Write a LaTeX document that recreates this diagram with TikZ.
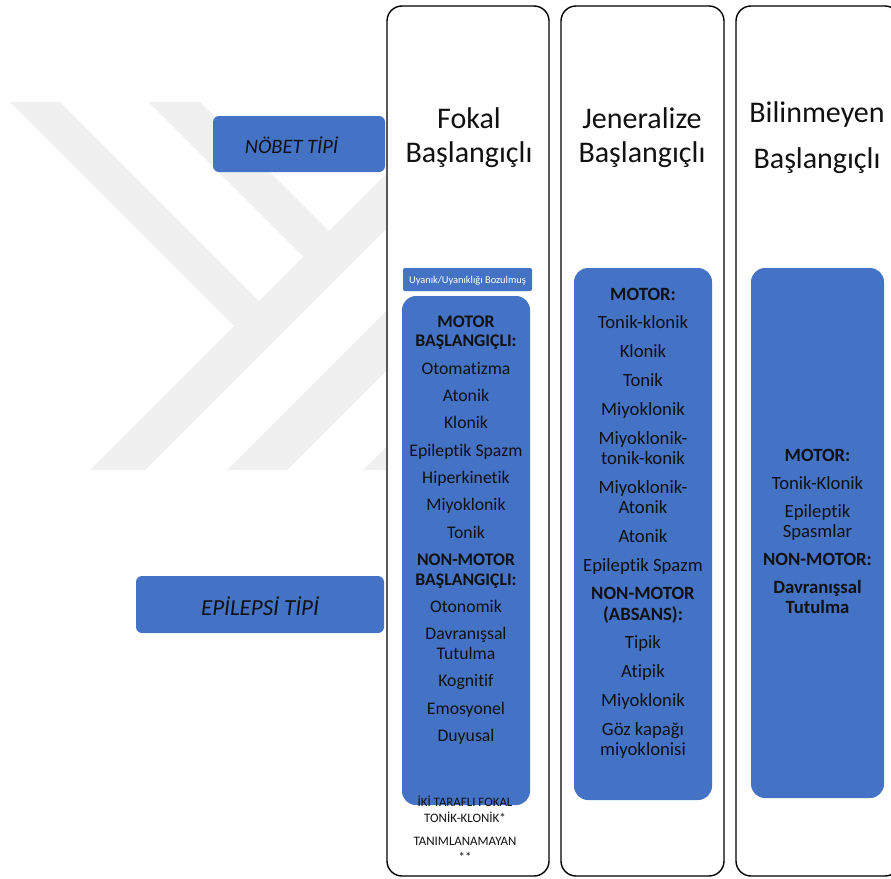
\documentclass[tikz,border=0pt]{standalone}
\usepackage{fontspec}
\setmainfont[Ligatures={NoCommon}]{Carlito}
\definecolor{ablue}{HTML}{4472C4}
\definecolor{wm}{HTML}{F0F0F0}
\definecolor{ink}{HTML}{111111}
\begin{document}
\begin{tikzpicture}[x=1pt,y=-1pt,
  colbox/.style={draw=black, line width=1.4pt, fill=white, rounded corners=15pt, inner sep=0pt},
  bbox/.style={fill=ablue, inner sep=0pt, rounded corners=14pt},
  lbox/.style={fill=ablue, inner sep=0pt, rounded corners=6pt},
  ltext/.style={anchor=base, inner sep=0pt, text=ink, font=\fontsize{20.5}{24}\selectfont\itshape},
  head/.style={anchor=base, inner sep=0pt, text=ink, font=\fontsize{30}{34}\selectfont},
  txtA/.style={anchor=base, inner sep=0pt, text=ink, font=\fontsize{17.7}{20}\selectfont},
  txtB/.style={anchor=base, inner sep=0pt, text=ink, font=\fontsize{18.7}{21}\selectfont},
  txtS/.style={anchor=base, inner sep=0pt, text=ink, font=\fontsize{12.9}{15}\selectfont}]
\useasboundingbox (0,0) rectangle (891,878);
% watermark
\begin{scope}
  \clip (0,102) rectangle (386,470);
  \fill[wm] (10,102) -- (60,102) -- (259,301) -- (234,326) -- cycle;
  \fill[wm] (148,102) -- (200,102) -- (329,231) -- (303,257) -- cycle;
  \fill[wm] (90,470) -- (145,470) -- (513,102) -- (458,102) -- cycle;
  \fill[wm] (227,470) -- (287,470) -- (655,102) -- (595,102) -- cycle;
  \fill[wm] (363,470) -- (418,470) -- (786,102) -- (731,102) -- cycle;
\end{scope}
% left labels
\node[lbox, minimum width=172, minimum height=56] (nobetbox) at (299,144) {};
\node[ltext] (nobet) at (291.5,153.3) {NÖBET TİPİ};
\node[lbox, minimum width=248, minimum height=57] (epibox) at (260,604.5) {};
\node[ltext, font=\fontsize{23}{26}\selectfont\itshape] (epi) at (260,615) {EPİLEPSİ TİPİ};
% columns
\node[colbox, minimum width=162, minimum height=870] (col1) at (468,441) {};
\node[colbox, minimum width=163, minimum height=870] (col2) at (642.5,441) {};
\node[colbox, minimum width=164, minimum height=870] (col3) at (818,441) {};
% headers
\node[head] (h1a) at (469,128) {Fokal};
\node[head] (h1b) at (469,162) {Başlangıçlı};
\node[head] (h2a) at (642,128) {Jeneralize};
\node[head] (h2b) at (642,162) {Başlangıçlı};
\node[head] (h3a) at (817,122) {Bilinmeyen};
\node[head] (h3b) at (817,168) {Başlangıçlı};
% blue boxes
\node[bbox, rounded corners=2pt, minimum width=129, minimum height=23] (c1s) at (467.5,279.5) {};
\node[anchor=base, inner sep=0pt, text=white, font=\fontsize{10.4}{12}\selectfont] (c1st) at (467.5,283.5) {Uyanık/Uyanıklığı Bozulmuş};
\node[bbox, minimum width=128, minimum height=509] (c1box) at (466,550.5) {};
\node[bbox, minimum width=138, minimum height=532] (c2box) at (643,534) {};
\node[bbox, minimum width=133, minimum height=530] (c3box) at (817.5,533) {};
% column 1 text
\foreach \y/\t [count=\i] in {327.3/{\bfseries MOTOR}, 346.8/{\bfseries BAŞLANGIÇLI:},
  374.2/Otomatizma, 401.5/Atonik, 428.9/Klonik, 456.2/Epileptik Spazm,
  483.6/Hiperkinetik, 510.9/Miyoklonik, 538.3/Tonik,
  565.6/{\bfseries NON-MOTOR}, 585.1/{\bfseries BAŞLANGIÇLI:},
  612.5/Otonomik, 639.8/Davranışsal, 659.3/Tutulma, 686.7/Kognitif,
  714.0/Emosyonel, 741.4/Duyusal}
  \node[txtA] (c1l\i) at (466,\y) {\t};
% column 1 bottom notes
\foreach \y/\t [count=\i] in {806.7/İKİ TARAFLI FOKAL, 822.7/TONİK-KLONİK*,
  845/TANIMLANAMAYAN, 861/**}
  \node[txtS] (c1n\i) at (465,\y) {\t};
% column 2 text
\foreach \y/\t [count=\i] in {300/{\bfseries MOTOR:}, 328.8/Tonik-klonik,
  357.6/Klonik, 386.4/Tonik, 415.2/Miyoklonik, 444/Miyoklonik-,
  464.3/tonik-konik, 493.1/Miyoklonik-, 513.4/Atonik, 542.2/Atonik,
  571/Epileptik Spazm, 599.8/{\bfseries NON-MOTOR}, 620.1/{\bfseries (ABSANS):},
  648.9/Tipik, 677.7/Atipik, 706.5/Miyoklonik, 735.3/Göz kapağı,
  755.6/miyoklonisi}
  \node[txtB] (c2l\i) at (643,\y) {\t};
% column 3 text
\foreach \y/\t [count=\i] in {461/{\bfseries MOTOR:}, 489/Tonik-Klonik,
  517/Epileptik, 537/Spasmlar, 565/{\bfseries NON-MOTOR:},
  593/{\bfseries Davranışsal}, 613/{\bfseries Tutulma}}
  \node[txtB] (c3l\i) at (817.5,\y) {\t};
\end{tikzpicture}
\end{document}
